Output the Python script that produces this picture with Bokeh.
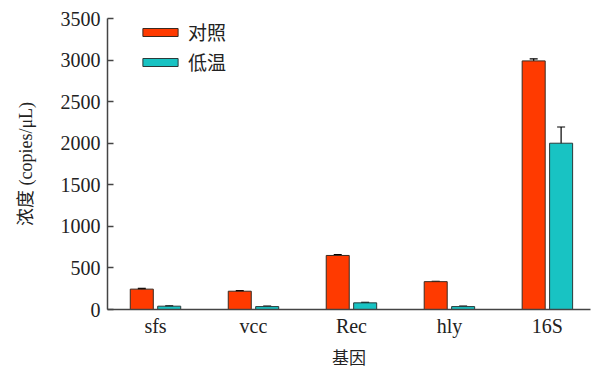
from bokeh.plotting import figure
from bokeh.models import ColumnDataSource, Whisker, TeeHead, FixedTicker, Range1d, Legend, LegendItem
from bokeh.embed import file_html
from bokeh.resources import INLINE

genes = ["sfs", "vcc", "Rec", "hly", "16S"]
control = [245, 220, 650, 335, 2990]
control_err = [8, 6, 10, 5, 25]
cold = [40, 35, 80, 35, 2000]
cold_err = [5, 5, 5, 5, 195]
series_names = ["对照", "低温"]

xpos = list(range(1, len(genes) + 1))
off = 0.14
w = 0.235

src_c = ColumnDataSource(dict(x=[v - off for v in xpos], top=control,
                              upper=[a + b for a, b in zip(control, control_err)],
                              lower=[a - b for a, b in zip(control, control_err)]))
src_t = ColumnDataSource(dict(x=[v + off for v in xpos], top=cold,
                              upper=[a + b for a, b in zip(cold, cold_err)],
                              lower=[a - b for a, b in zip(cold, cold_err)]))

p = figure(width=591, height=370, output_backend="svg", toolbar_location=None,
           x_range=Range1d(0.51, 5.44), y_range=Range1d(0, 3500),
           min_border_left=107, min_border_right=1, min_border_top=18, min_border_bottom=61)
p.outline_line_color = None
p.xgrid.grid_line_color = None
p.ygrid.grid_line_color = None
p.background_fill_color = "white"
p.border_fill_color = "white"

r1 = p.vbar(x="x", top="top", width=w, bottom=0, source=src_c,
            fill_color="#FF3A00", line_color="#3a2a20", line_width=1)
r2 = p.vbar(x="x", top="top", width=w, bottom=0, source=src_t,
            fill_color="#18C3C3", line_color="#2a3a3a", line_width=1)

for s in (src_c, src_t):
    wk = Whisker(base="x", upper="upper", lower="lower", source=s,
                 line_color="black", line_width=1.2,
                 upper_head=TeeHead(size=8, line_color="black", line_width=1.2),
                 lower_head=TeeHead(size=8, line_color="black", line_width=1.2))
    p.add_layout(wk)

font = "Liberation Serif, Noto Sans CJK SC"

p.xaxis.ticker = FixedTicker(ticks=xpos)
p.xaxis.major_label_overrides = {v: g for v, g in zip(xpos, genes)}
p.xaxis.major_tick_line_color = None
p.xaxis.major_tick_in = 0
p.xaxis.major_tick_out = 0
p.xaxis.minor_tick_line_color = None
p.xaxis.axis_line_color = "#444444"
p.xaxis.axis_line_width = 1.5
p.xaxis.major_label_text_font = font
p.xaxis.major_label_text_font_size = "20px"
p.xaxis.major_label_text_color = "#222222"
p.xaxis.major_label_standoff = 5
p.xaxis.axis_label = "基因"
p.xaxis.axis_label_text_font = font
p.xaxis.axis_label_text_font_size = "17px"
p.xaxis.axis_label_text_font_style = "normal"
p.xaxis.axis_label_text_color = "#222222"
p.xaxis.axis_label_standoff = 9

p.yaxis.ticker = FixedTicker(ticks=[0, 500, 1000, 1500, 2000, 2500, 3000, 3500])
p.yaxis.minor_tick_line_color = None
p.yaxis.major_tick_in = 6
p.yaxis.major_tick_out = 0
p.yaxis.major_tick_line_color = "#444444"
p.yaxis.major_tick_line_width = 1.5
p.yaxis.axis_line_color = "#444444"
p.yaxis.axis_line_width = 1.5
p.yaxis.major_label_text_font = font
p.yaxis.major_label_text_font_size = "20px"
p.yaxis.major_label_text_color = "#222222"
p.yaxis.major_label_standoff = 7
p.yaxis.axis_label = "浓度 (copies/μL)"
p.yaxis.axis_label_text_font = font
p.yaxis.axis_label_text_font_size = "18px"
p.yaxis.axis_label_text_font_style = "normal"
p.yaxis.axis_label_text_color = "#222222"
p.yaxis.axis_label_standoff = 22

legend = Legend(items=[LegendItem(label=series_names[0], renderers=[r1]),
                       LegendItem(label=series_names[1], renderers=[r2])],
                location=(31, 234), border_line_color=None, background_fill_alpha=0,
                padding=0, margin=0, spacing=3, glyph_width=44, glyph_height=10,
                label_height=20, label_standoff=6,
                label_text_font=font, label_text_font_size="19px", label_text_color="#222222")
p.add_layout(legend)

open("out.html", "w").write(file_html(p, INLINE))
